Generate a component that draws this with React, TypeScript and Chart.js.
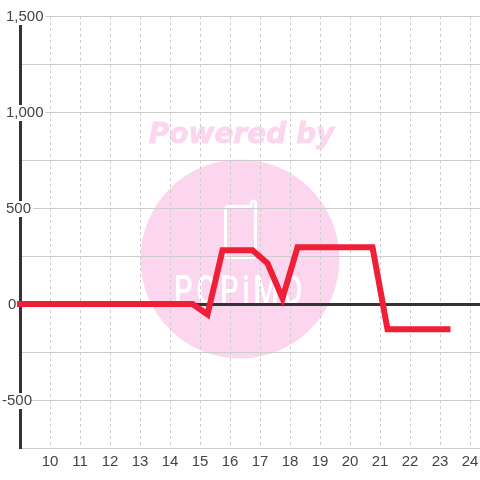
import React, { useEffect, useRef } from "react";
import { Chart, registerables } from "chart.js";

Chart.register(...registerables);

const hours = [8.75, 14.75, 15.25, 15.75, 16.75, 17.25, 17.75, 18.25, 20.75, 21.25, 23.25];
const values = [0, 0, -55, 280, 280, 212, 30, 295, 295, -132, -132];
const xTicks = [10, 11, 12, 13, 14, 15, 16, 17, 18, 19, 20, 21, 22, 23, 24];
const poweredBy = "Powered by";
const logoName = "POPiMO";

const PINK = "#fbd6ee";

const watermark = {
  id: "watermark",
  beforeDraw(chart: any) {
    const c = chart.ctx;
    // nudge the library's own y tick labels to where the reference has them
    for (const item of chart.scales.y.getLabelItems()) {
      const o = item.options;
      if (item.__moved) continue;
      item.__moved = true;
      o.translation = [o.translation[0], o.translation[1] + 1];
      if (item.label === "-500") {
        o.translation[0] -= 4;
        if (o.backdrop) o.backdrop.left -= 4;
      }
      if (item.label === "0") o.translation[0] += 2;
    }
    c.save();
    c.fillStyle = PINK;
    c.strokeStyle = PINK;
    c.beginPath();
    c.arc(240, 259, 99.5, 0, Math.PI * 2);
    c.fill();
    c.font = "italic bold 28px 'DejaVu Sans'";
    c.textAlign = "center";
    c.textBaseline = "alphabetic";
    c.lineWidth = 0.8;
    c.fillText(poweredBy, 241.5, 143, 187);
    c.strokeText(poweredBy, 241.5, 143, 187);
    c.strokeStyle = "#ffffff";
    c.lineWidth = 3;
    c.beginPath();
    c.moveTo(251.5, 206.5);
    c.lineTo(251.5, 203);
    c.arc(253.5, 203, 2, Math.PI, 0);
    c.lineTo(255.5, 254);
    c.arcTo(255.5, 257.5, 252, 257.5, 3);
    c.lineTo(229, 257.5);
    c.arcTo(225.5, 257.5, 225.5, 254, 3);
    c.lineTo(225.5, 210);
    c.arcTo(225.5, 206.5, 229, 206.5, 3);
    c.lineTo(251.5, 206.5);
    c.stroke();
    c.fillStyle = "#ffffff";
    c.font = "500 41px Roboto";
    (c as any).letterSpacing = "5px";
    c.textAlign = "center";
    c.translate(240, 304);
    c.scale(0.72, 1);
    c.fillText(logoName, 0, 0, 183);
    c.restore();
  },
};

export default function App() {
  const ref = useRef<HTMLCanvasElement>(null);
  useEffect(() => {
    const chart = new Chart(ref.current!, {
      type: "line",
      data: {
        datasets: [
          {
            data: hours.map((h, i) => ({ x: h, y: values[i] })),
            borderColor: "#f01f38",
            borderWidth: 6,
            borderCapStyle: "square",
            borderJoinStyle: "miter",
            pointRadius: 0,
            tension: 0,
            clip: { left: 3, right: 0, top: 0, bottom: 0 } as any,
          },
        ],
      },
      plugins: [watermark],
      options: {
        responsive: false,
        animation: false,
        layout: { padding: { top: 16, left: 0, right: 0, bottom: 0 } },
        plugins: { legend: { display: false }, tooltip: { enabled: false } },
        scales: {
          x: {
            type: "linear",
            min: 9,
            max: 24.3333,
            afterBuildTicks(s: any) {
              s.ticks = xTicks.map((v) => ({ value: v }));
            },
            afterFit(s: any) {
              s.height = 32;
              s.paddingLeft = 0;
              s.paddingRight = 0;
            },
            border: { display: false, dash: [3, 3] },
            grid: { color: "#cccccc", lineWidth: 1, drawTicks: false, tickLength: 0 },
            ticks: {
              autoSkip: false,
              maxRotation: 0,
              padding: 5,
              color: "#444444",
              font: { family: "'Liberation Sans'", size: 15 },
              callback: (v: any) => String(v),
            },
          },
          y: {
            type: "linear",
            min: -750,
            max: 1500,
            afterFit(s: any) {
              s.width = 20;
              s.paddingTop = 0;
              s.paddingBottom = 0;
            },
            border: { display: true, color: "#333333", width: 3 },
            grid: {
              drawTicks: false,
              tickLength: 0,
              color: (c: any) => (c.tick && c.tick.value === 0 ? "#333333" : "#cccccc"),
              lineWidth: (c: any) => (c.tick && c.tick.value === 0 ? 3 : 1),
            },
            ticks: {
              stepSize: 250,
              autoSkip: false,
              mirror: true,
              padding: -14,
              color: "#444444",
              font: { family: "'Liberation Sans'", size: 15, lineHeight: 16 / 15 },
              showLabelBackdrop: ((c: any) => c.tick.value % 500 === 0 && c.tick.value !== 0) as any,
              backdropColor: "#ffffff",
              backdropPadding: { top: 0, bottom: 0, left: 2, right: 2 },
              callback: (v: any) => (Number(v) % 500 === 0 ? Number(v).toLocaleString("en-US") : ""),
            },
          },
        },
      } as any,
    });
    return () => chart.destroy();
  }, []);
  return (
    <canvas
      ref={ref}
      width={480}
      height={480}
      style={{ position: "fixed", left: 0, top: 0, width: 480, height: 480, display: "block" }}
    />
  );
}
